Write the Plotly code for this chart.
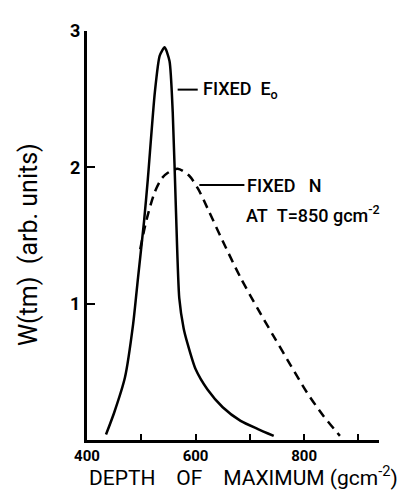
import plotly.graph_objects as go

# Data
fixed_e0_x = [435, 450, 470, 485, 494, 505, 512, 525, 534, 543, 552, 558, 564, 570, 578, 585, 600, 622, 650, 683, 715, 744]
fixed_e0_y = [0.04, 0.20, 0.46, 0.85, 1.19, 1.60, 1.91, 2.55, 2.82, 2.88, 2.78, 2.40, 1.67, 1.04, 0.82, 0.71, 0.52, 0.37, 0.24, 0.14, 0.08, 0.03]

fixed_n_x = [498, 510, 525, 538, 549, 567, 588, 605, 622, 650, 683, 715, 744, 775, 805, 835, 866]
fixed_n_y = [1.40, 1.62, 1.82, 1.92, 1.96, 1.99, 1.94, 1.84, 1.70, 1.46, 1.19, 0.96, 0.76, 0.55, 0.35, 0.18, 0.03]

x_tickvals = [400, 500, 600, 700, 800, 900]
x_ticktext = ["400", "", "600", "", "800", ""]
y_tickvals = [1, 2, 3]
y_ticktext = ["1", "2", "3"]

FONT = "Roboto, sans-serif"

fig = go.Figure()
fig.add_trace(go.Scatter(x=fixed_e0_x, y=fixed_e0_y, mode="lines",
                         line=dict(color="black", width=2.5, shape="spline", smoothing=0.6),
                         showlegend=False))
fig.add_trace(go.Scatter(x=fixed_n_x, y=fixed_n_y, mode="lines",
                         line=dict(color="black", width=2.5, dash="9px,6px", shape="spline", smoothing=0.8),
                         showlegend=False))

# label leader lines
fig.add_shape(type="line", x0=567, x1=604, y0=2.57, y1=2.57, line=dict(color="black", width=2))
fig.add_shape(type="line", x0=607, x1=690, y0=1.87, y1=1.87, line=dict(color="black", width=2))

fig.add_annotation(x=610, y=2.57, text="FIXED\u00a0\u00a0E<sub>o</sub>", showarrow=False,
                   xanchor="left", yanchor="middle", font=dict(family=FONT, size=18, color="black", weight=500))
fig.add_annotation(x=692, y=1.87, text="FIXED\u00a0\u00a0\u00a0N", showarrow=False,
                   xanchor="left", yanchor="middle", font=dict(family=FONT, size=18, color="black", weight=500))
fig.add_annotation(x=690, y=1.66, text="AT\u00a0\u00a0T=850\u00a0gcm<sup>-2</sup>", showarrow=False,
                   xanchor="left", yanchor="middle", font=dict(family=FONT, size=18, color="black", weight=500))

# axis titles
fig.add_annotation(xref="paper", yref="paper", x=0.535, y=-0.087,
                   text="DEPTH\u00a0\u00a0\u00a0\u00a0OF\u00a0\u00a0\u00a0\u00a0MAXIMUM\u00a0(gcm<sup>-2</sup>)",
                   showarrow=False, xanchor="center", yanchor="middle",
                   font=dict(family=FONT, size=21, color="black"))
fig.add_annotation(xref="paper", yref="paper", x=-0.2, y=0.478,
                   text="W(tm)\u00a0\u00a0(arb.\u00a0units)", textangle=-90,
                   showarrow=False, xanchor="center", yanchor="middle",
                   font=dict(family=FONT, size=25, color="black"))

fig.update_xaxes(range=[400, 938], tickvals=x_tickvals, ticktext=x_ticktext,
                 ticks="inside", ticklen=6, tickwidth=2, tickcolor="black",
                 showline=True, linecolor="black", linewidth=3, showgrid=False, zeroline=False,
                 tickfont=dict(family=FONT, size=15, color="black", weight="bold"))
fig.update_yaxes(range=[0, 3], tickvals=y_tickvals, ticktext=y_ticktext,
                 ticks="inside", ticklen=8, tickwidth=2, tickcolor="black",
                 showline=True, linecolor="black", linewidth=3, showgrid=False, zeroline=False,
                 tickfont=dict(family=FONT, size=18, color="black", weight="bold"))

fig.update_layout(width=412, height=491, margin=dict(l=79, r=41, t=16, b=59),
                  paper_bgcolor="white", plot_bgcolor="white")

fig.write_html("out.html")
